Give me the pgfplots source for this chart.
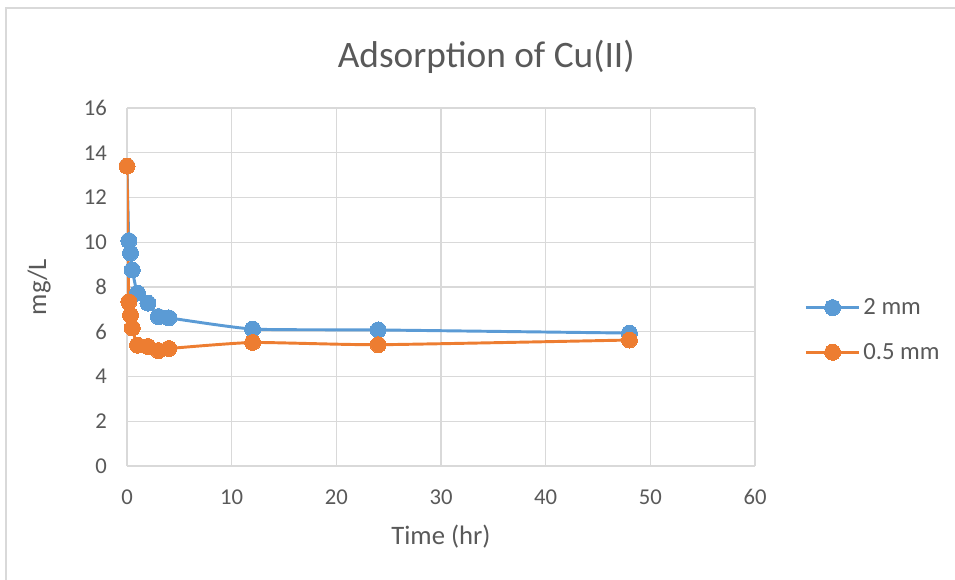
\documentclass[border=0pt]{standalone}
\usepackage{pgfplots}
\pgfplotsset{compat=1.18}
\usepackage{fontspec}
\setmainfont{Carlito}
\definecolor{cblue}{HTML}{5B9BD5}
\definecolor{corange}{HTML}{ED7D31}
\definecolor{cgrid}{HTML}{D9D9D9}
\definecolor{ctext}{HTML}{595959}
\begin{document}
\begin{tikzpicture}
\useasboundingbox (0,0) rectangle (716.25pt,435pt);
\draw[cgrid,line width=1.2pt] (4.5pt,-20pt) rectangle (740pt,429pt);
\begin{axis}[
  at={(95.25pt,85.5pt)}, anchor=origin,
  scale only axis, width=471pt, height=268.5pt,
  xmin=0, xmax=60, ymin=0, ymax=16,
  xtick={0,10,...,60}, ytick={0,2,...,16},
  grid=major, major grid style={cgrid, line width=0.8pt},
  axis x line*=bottom, axis y line*=left,
  x axis line style={cgrid, line width=0.8pt, -},
  y axis line style={draw=none},
  tick style={draw=none},
  ticklabel style={font=\fontsize{17}{19}\selectfont, text=ctext},
  /pgf/number format/assume math mode=true,
  xticklabel style={yshift=-14pt},
  yticklabel style={xshift=-11.5pt},
  title={\fontsize{28}{32}\selectfont Adsorption of Cu(II)},
  title style={at={(0.5,1)}, anchor=base, yshift=24pt, text=ctext, xshift=34pt},
  xlabel={Time (hr)}, ylabel={mg/L},
  label style={font=\fontsize{20}{24}\selectfont, text=ctext},
  xlabel style={yshift=-8pt},
  ylabel style={yshift=18pt},
  legend style={draw=none, fill=none, at={(1.072,0.38)}, anchor=west,
    font=\fontsize{18.5}{21}\selectfont, text=ctext, row sep=16pt},
  legend cell align=left,
  legend image code/.code={
    \draw[#1, mark=none, line width=2.2pt] (0pt,0pt) -- (40pt,0pt);
    \draw[#1] plot coordinates {(20pt,0pt)};
  },
]
\addplot[cblue, line width=2.2pt, smooth, tension=0.3, mark=*, mark size=6pt, mark options={fill=cblue, draw=cblue, line width=0pt}] coordinates {
(0,13.4) (0.17,10.07) (0.33,9.52) (0.5,8.76) (1,7.73) (2,7.28) (3,6.68) (4,6.62) (12,6.12) (24,6.08) (48,5.94)};
\addlegendentry{2 mm}
\addplot[corange, line width=2.2pt, smooth, tension=0.3, mark=*, mark size=6pt, mark options={fill=corange, draw=corange, line width=0pt}] coordinates {
(0,13.4) (0.17,7.34) (0.33,6.74) (0.5,6.17) (1,5.4) (2,5.34) (3,5.16) (4,5.25) (12,5.52) (24,5.42) (48,5.63)};
\addlegendentry{0.5 mm}
\end{axis}
\end{tikzpicture}
\end{document}
